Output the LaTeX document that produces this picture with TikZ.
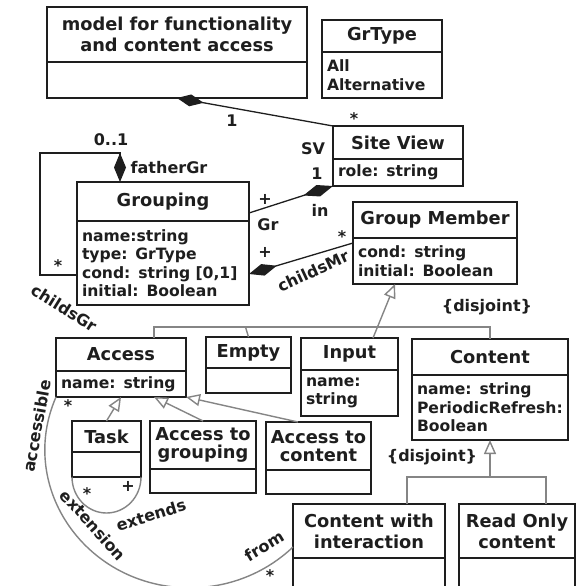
\documentclass[tikz,border=0pt]{standalone}
\usepackage{fontspec}
\setmainfont{DejaVu Sans}
\usetikzlibrary{arrows.meta,calc}
\newcommand\hfnt{\fontsize{17.8}{20}\selectfont\bfseries}
\newcommand\hfntb{\fontsize{17.8}{21}\selectfont\bfseries}
\newcommand\hfntc{\fontsize{17.8}{18.5}\selectfont\bfseries}
\newcommand\afnt{\fontsize{15.6}{18.5}\selectfont\bfseries}
\newcommand\lfnt{\fontsize{16}{18}\selectfont\bfseries}
\definecolor{ink}{HTML}{1E1E1E}
\definecolor{genc}{HTML}{858585}
\begin{document}
\begin{tikzpicture}[x=1pt,y=-1pt,
 hdr/.style={draw=ink,line width=1.4pt,font=\hfnt,align=center,inner sep=0pt,outer sep=0pt,anchor=north west,text=ink},
 bdy/.style={draw=ink,line width=1.4pt,font=\afnt,align=left,inner xsep=5pt,inner ysep=0pt,outer sep=0pt,anchor=north west,text=ink},
 lbl/.style={font=\lfnt,inner sep=0pt,text=ink},
 comp/.style={draw=ink,line width=1.3pt,arrows={Diamond[length=#1,width=12pt]-}},
 genl/.style={draw=genc,line width=1.4pt},
 gena/.style={draw=genc,line width=1.4pt,arrows={-Triangle[open,length=14pt,width=12pt,fill=white]}}
]
\clip (0,0) rectangle (577,586);
\fill[white] (0,0) rectangle (577,586);

% classes
\node[hdr,font=\hfntb,minimum width=260,minimum height=55] (mdlh) at (47,7) {model for functionality\\and content access};
\node[bdy,minimum width=260,minimum height=36] (mdlb) at (47,62) {};

\node[hdr,minimum width=120,minimum height=32] (grth) at (322,20) {GrType};
\node[bdy,text width=110pt,minimum height=46] (grtb) at (322,52) {All\\Alternative};

\node[hdr,minimum width=130,minimum height=33] (svh) at (333,126) {Site View};
\node[bdy,text width=120pt,minimum height=27] (svb) at (333,159) {role: string};

\node[hdr,minimum width=172,minimum height=39] (grph) at (77,182) {Grouping};
\node[bdy,text width=162pt,minimum height=84] (grpb) at (77,221) {name:string\\type: GrType\\cond: string [0,1]\\initial: Boolean};

\node[hdr,minimum width=164,minimum height=36] (gmh) at (353,202) {Group Member};
\node[bdy,text width=154pt,minimum height=46] (gmb) at (353,238) {cond: string\\initial: Boolean};

\node[hdr,minimum width=130,minimum height=33] (acch) at (56,338) {Access};
\node[bdy,text width=120pt,minimum height=26] (accb) at (56,371) {name: string};

\node[hdr,minimum width=85,minimum height=31] (emph) at (206,337) {Empty};
\node[bdy,minimum width=85,minimum height=25] (empb) at (206,368) {};

\node[hdr,minimum width=97,minimum height=32] (inph) at (301,338) {Input};
\node[bdy,text width=87pt,minimum height=46] (inpb) at (301,370) {name:\\string};

\node[hdr,minimum width=156,minimum height=36] (cnth) at (412,339) {Content};
\node[bdy,text width=146pt,minimum height=65] (cntb) at (412,375) {name: string\\PeriodicRefresh:\\Boolean};

\node[hdr,minimum width=69,minimum height=31] (tskh) at (72,421) {Task};
\node[bdy,minimum width=69,minimum height=25] (tskb) at (72,452) {};

\node[hdr,font=\hfntc,minimum width=106,minimum height=48] (atgh) at (150,421) {Access to\\grouping};
\node[bdy,minimum width=106,minimum height=24] (atgb) at (150,469) {};

\node[hdr,font=\hfntc,minimum width=105,minimum height=48] (atch) at (266,422) {Access to\\content};
\node[bdy,minimum width=105,minimum height=24] (atcb) at (266,470) {};

\node[hdr,font=\hfntb,minimum width=152,minimum height=54] (cwih) at (293,504) {Content with\\interaction};
\node[bdy,minimum width=152,minimum height=40] (cwib) at (293,558) {};

\node[hdr,font=\hfntb,minimum width=116,minimum height=54] (roch) at (459,504) {Read Only\\content};
\node[bdy,minimum width=116,minimum height=40] (rocb) at (459,558) {};

% compositions
\draw[comp=27pt] ([xshift=130pt]mdlb.south west) -- (svh.north west);
\draw[comp=31pt] (svb.south west) -- ([yshift=-11.5pt]grph.east);
\draw[comp=29pt] ([yshift=-11pt]grpb.east) -- ([yshift=18pt]gmb.west);
\draw[comp=29pt] ([xshift=43pt]grph.north west) -- ++(0,-29) -- ++(-80,0) |- ([yshift=-12pt]grpb.west);

% generalizations
\draw[gena] ([xshift=23.5pt]inph.north) -- ([xshift=-40pt]gmb.south);
\draw[genl] ([xshift=33pt]acch.north) -- ++(0,-11) -| (cnth.north);
\draw[genl] (emph.north) -- ++(-3,-10);
\draw[gena] (tskh.north) -- (accb.south);
\draw[gena] (atgh.north) -- ([xshift=33pt]accb.south);
\draw[gena] ([xshift=-20.5pt]atch.north) -- (accb.south east);
\coordinate (cj) at (490,477);
\draw[gena] (cj) -- (cntb.south);
\draw[genl] ([xshift=38pt]cwih.north) |- (cj) -| ([xshift=29pt]roch.north);

% task self association
\draw[genl] (tskb.south west) .. controls ($(tskb.south west)+(0,19.9)$) and ($(tskb.south)+(-19.1,36)$) .. ($(tskb.south)+(0,36)$)
  .. controls ($(tskb.south)+(19.1,36)$) and ($(tskb.south east)+(0,19.9)$) .. (tskb.south east);

% accessible arc
\draw[genl] (accb.south west) .. controls (16.4,487.9) and (86.7,587.8) .. (190,587.8)
  .. controls (228.5,587.8) and (265.3,573.3) .. ([yshift=-16pt]cwih.west);

% labels
\node[lbl] (l1) at (232,121) {1};
\node[lbl] (l2) at (354,119) {*};
\node[lbl] (l3) at (313,149) {SV};
\node[lbl] (l4) at (317,174) {1};
\node[lbl] (l5) at (265,199) {+};
\node[lbl] (l6) at (268,225) {Gr};
\node[lbl] (l7) at (320,210) {in};
\node[lbl] (l8) at (265,252) {+};
\node[lbl] (l9) at (342,237) {*};
\node[lbl,rotate=25] (l10) at (313,271) {childsMr};
\node[lbl] (l11) at (111,140) {0..1};
\node[lbl] (l12) at (169,168) {fatherGr};
\node[lbl] (l13) at (58,266) {*};
\node[lbl,rotate=-32] (l14) at (64,308) {childsGr};
\node[lbl] (l15) at (487,307) {\{disjoint\}};
\node[lbl] (l16) at (432,457) {\{disjoint\}};
\node[lbl] (l17) at (87,494) {*};
\node[lbl] (l18) at (128,486) {+};
\node[lbl,rotate=17] (l19) at (151,515) {extends};
\node[lbl,rotate=80] (l20) at (37,426) {accessible};
\node[lbl] (l21) at (68,406) {*};
\node[lbl,rotate=-48] (l22) at (93,525) {extension};
\node[lbl,rotate=31] (l23) at (264,546) {from};
\node[lbl] (l24) at (270,576) {*};
\end{tikzpicture}
\end{document}
